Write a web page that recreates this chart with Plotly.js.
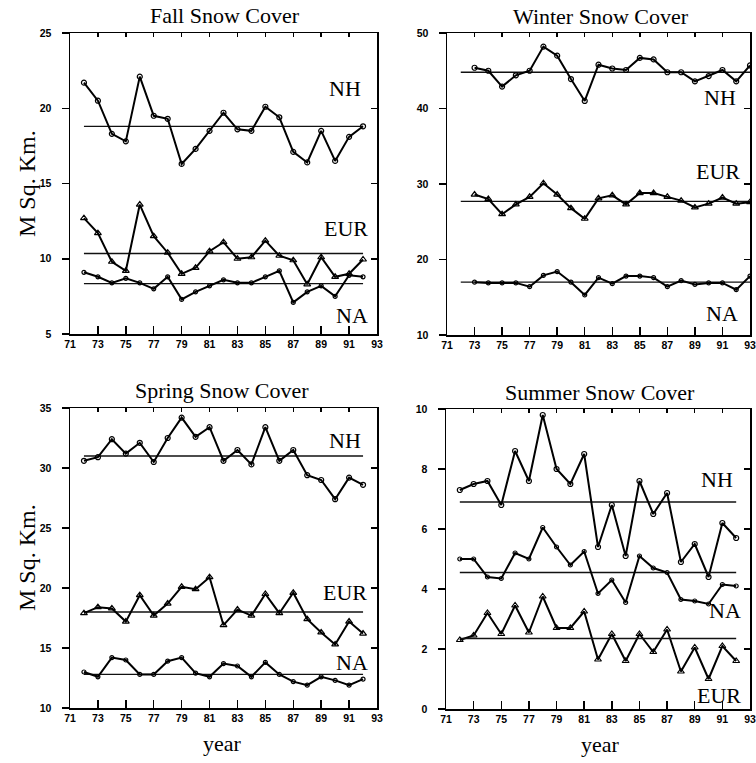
<!DOCTYPE html>
<html><head><meta charset="utf-8">
<script src="https://cdn.plot.ly/plotly-3.0.1.min.js"></script>
<style>html,body{margin:0;padding:0;background:#fff}</style>
</head><body><div id="chart" style="width:756px;height:763px"></div>
<script>
// ---- data (million sq. km) ----
const yearsFall   = [72,73,74,75,76,77,78,79,80,81,82,83,84,85,86,87,88,89,90,91,92];
const yearsWinter = [73,74,75,76,77,78,79,80,81,82,83,84,85,86,87,88,89,90,91,92,93];
const yearsSpring = [72,73,74,75,76,77,78,79,80,81,82,83,84,85,86,87,88,89,90,91,92];
const yearsSummer = [72,73,74,75,76,77,78,79,80,81,82,83,84,85,86,87,88,89,90,91,92];

const fallNH  = [21.7,20.5,18.3,17.8,22.1,19.5,19.3,16.3,17.3,18.5,19.7,18.6,18.5,20.1,19.4,17.1,16.4,18.5,16.5,18.1,18.8];
const fallEUR = [12.7,11.7,9.8,9.2,13.6,11.5,10.4,9.0,9.4,10.5,11.1,10.0,10.1,11.2,10.2,9.9,8.3,10.1,8.8,9.0,9.95];
const fallNA  = [9.1,8.8,8.4,8.7,8.4,8.0,8.8,7.3,7.8,8.2,8.6,8.4,8.4,8.8,9.2,7.1,7.8,8.2,7.5,8.9,8.8];
const fallMean = [18.8,10.35,8.35];

const winterNH  = [45.4,45.0,42.9,44.4,45.0,48.2,47.0,43.9,41.0,45.8,45.3,45.1,46.7,46.5,44.8,44.8,43.6,44.3,45.1,43.6,45.7];
const winterEUR = [28.6,28.0,26.0,27.3,28.3,30.1,28.6,26.8,25.4,28.1,28.5,27.3,28.8,28.8,28.3,27.8,26.9,27.4,28.2,27.4,27.6];
const winterNA  = [17.0,16.9,16.9,16.9,16.4,17.9,18.4,17.0,15.3,17.6,16.8,17.8,17.8,17.6,16.4,17.2,16.7,16.9,16.9,16.0,17.8];
const winterMean = [44.8,27.7,17.0];

const springNH  = [30.6,30.9,32.4,31.2,32.1,30.5,32.5,34.2,32.6,33.4,30.6,31.5,30.3,33.4,30.6,31.5,29.4,29.0,27.4,29.2,28.6];
const springEUR = [17.9,18.4,18.3,17.2,19.4,17.7,18.7,20.1,19.9,20.9,16.9,18.2,17.7,19.5,17.9,19.6,17.4,16.3,15.3,17.2,16.2];
const springNA  = [13.0,12.6,14.2,14.0,12.8,12.8,13.9,14.2,12.9,12.6,13.7,13.5,12.6,13.8,12.8,12.2,11.9,12.6,12.3,11.9,12.4];
const springMean = [31.0,18.0,12.8];

const summerNH  = [7.3,7.5,7.6,6.8,8.6,7.6,9.8,8.0,7.5,8.5,5.4,6.8,5.1,7.6,6.5,7.2,4.9,5.5,4.4,6.2,5.7];
const summerNA  = [5.0,5.0,4.4,4.35,5.2,5.0,6.05,5.4,4.8,5.25,3.85,4.3,3.55,5.1,4.7,4.55,3.65,3.6,3.5,4.15,4.1];
const summerEUR = [2.3,2.45,3.2,2.5,3.45,2.55,3.75,2.7,2.7,3.25,1.65,2.5,1.6,2.5,1.9,2.65,1.25,2.05,1.0,2.1,1.6];
const summerMean = [6.9,4.55,2.35];

const regionNames = ['NH','EUR','NA'];
const xTickVals = [71,73,75,77,79,81,83,85,87,89,91,93];
const xTickText = ['71','73','75','77','79','81','83','85','87','89','91','93'];
const fallTicks   = [5,10,15,20,25];
const winterTicks = [10,20,30,40,50];
const springTicks = [10,15,20,25,30,35];
const summerTicks = [0,2,4,6,8,10];

const titles = ['Fall Snow Cover','Winter Snow Cover','Spring Snow Cover','Summer Snow Cover'];
const yTitle = 'M Sq. Km.';
const xTitle = 'year';

// ---- panels ----
const panels = [
  {years: yearsFall,   series:[fallNH,fallEUR,fallNA],       means: fallMean,   ticks: fallTicks,   range:[5,25],
   meanX:[72,92], labels:[{t:'NH',x:92,y:21.3},{t:'EUR',x:92.5,y:12.0},{t:'NA',x:92.5,y:6.2}],
   dom:{x:[70,377], y:[33,334]}},
  {years: yearsWinter, series:[winterNH,winterEUR,winterNA], means: winterMean, ticks: winterTicks, range:[10,50],
   meanX:[72,93], labels:[{t:'NH',x:92.1,y:41.4},{t:'EUR',x:92.4,y:31.7},{t:'NA',x:92.3,y:12.9}],
   dom:{x:[447,750], y:[33,335]}},
  {years: yearsSpring, series:[springNH,springEUR,springNA], means: springMean, ticks: springTicks, range:[10,35],
   meanX:[72,92], labels:[{t:'NH',x:92,y:32.3},{t:'EUR',x:92.4,y:19.6},{t:'NA',x:92.5,y:13.8}],
   dom:{x:[70,377], y:[408,708]}},
  {years: yearsSummer, series:[summerNH,summerEUR,summerNA], means: summerMean, ticks: summerTicks, range:[0,10],
   meanX:[72,92], labels:[{t:'NH',x:91.9,y:7.65},{t:'NA',x:92.5,y:3.3},{t:'EUR',x:92.5,y:0.45}],
   dom:{x:[446,750], y:[409,709]}}
];

const W = 756, H = 763;
const markerSym = ['circle-open','triangle-up-open','circle-open'];
const markerSize = [5,6,4];
const data = [];
const layout = {
  width: W, height: H, margin:{l:0,r:0,t:0,b:0},
  paper_bgcolor:'#fff', plot_bgcolor:'#fff', showlegend:false,
  font:{family:'Liberation Serif, Times New Roman, serif', color:'#000'},
  annotations: []
};
const tickFont = {family:'Liberation Sans Narrow, Liberation Sans, Arial, sans-serif', size:10.5, color:'#000', weight:'bold'};

panels.forEach((p, i) => {
  const n = i + 1, s = n === 1 ? '' : String(n);
  const xa = 'x' + s, ya = 'y' + s;
  const xo = 'x' + (n + 4), yo = 'y' + (n + 4);
  const xd = [p.dom.x[0] / W, p.dom.x[1] / W];
  const yd = [(H - p.dom.y[1]) / H, (H - p.dom.y[0]) / H];
  layout['xaxis' + s] = {domain: xd, anchor: ya, range:[71,93], tickmode:'array', tickvals:xTickVals, ticktext:xTickText,
    ticks:'inside', ticklen:8, tickwidth:1.5, tickcolor:'#000', showline:true, linecolor:'#000', linewidth:1.5, mirror:true,
    showgrid:false, zeroline:false, tickfont:tickFont, fixedrange:true};
  layout['yaxis' + s] = {domain: yd, anchor: xa, range:p.range, tickmode:'array', tickvals:p.ticks,
    ticks:'outside', ticklen:7, tickwidth:1.5, tickcolor:'#000', showline:true, linecolor:'#000', linewidth:1.5, mirror:true,
    showgrid:false, zeroline:false, tickfont:tickFont, ticklabelstandoff:8, fixedrange:true};
  // overlay axes for top / right tick marks
  layout['xaxis' + (n + 4)] = {overlaying: xa, side:'top', anchor: ya, range:[71,93], tickmode:'array', tickvals:xTickVals,
    ticks:'inside', ticklen:4, tickwidth:1.5, tickcolor:'#000', showticklabels:false, showline:false, showgrid:false, zeroline:false};
  layout['yaxis' + (n + 4)] = {overlaying: ya, side:'right', anchor: xa, range:p.range, tickmode:'array', tickvals:p.ticks,
    ticks:'inside', ticklen:6, tickwidth:1.5, tickcolor:'#000', showticklabels:false, showline:false, showgrid:false, zeroline:false};
  data.push({x:[], y:[], xaxis: xo, yaxis: ya, type:'scatter', hoverinfo:'skip'});
  data.push({x:[], y:[], xaxis: xa, yaxis: yo, type:'scatter', hoverinfo:'skip'});

  p.series.forEach((vals, k) => {
    // mean line
    data.push({x: p.meanX, y:[p.means[k], p.means[k]], xaxis: xa, yaxis: ya, type:'scatter', mode:'lines',
      line:{color:'#111', width:1.3}, hoverinfo:'skip'});
    data.push({x: p.years, y: vals, xaxis: xa, yaxis: ya, type:'scatter', mode:'lines+markers', name: regionNames[k],
      line:{color:'#000', width:2}, marker:{symbol: markerSym[k], size: markerSize[k], color:'#000', line:{width:1.2, color:'#000'}}});
  });
  p.labels.forEach(l => {
    layout.annotations.push({xref: xa, yref: ya, x: l.x, y: l.y, text: l.t, showarrow:false, xanchor:'right', yanchor:'middle',
      font:{size:22, family:'Liberation Serif, serif', color:'#000'}});
  });
});

// subplot titles
const titlePos = [[225,15],[601,16],[222,390],[600,392]];
titles.forEach((t, i) => {
  layout.annotations.push({xref:'paper', yref:'paper', x: titlePos[i][0] / W, y: (H - titlePos[i][1]) / H, text: t,
    showarrow:false, xanchor:'center', yanchor:'middle', font:{size:22, family:'Liberation Serif, serif', color:'#000'}});
});
// axis titles
[[27,184],[27,558]].forEach(pos => {
  layout.annotations.push({xref:'paper', yref:'paper', x: pos[0] / W, y: (H - pos[1]) / H, text: yTitle, textangle:-90,
    showarrow:false, xanchor:'center', yanchor:'middle', font:{size:24, family:'Liberation Serif, serif', color:'#000'}});
});
[[222,743],[600,744]].forEach(pos => {
  layout.annotations.push({xref:'paper', yref:'paper', x: pos[0] / W, y: (H - pos[1]) / H, text: xTitle,
    showarrow:false, xanchor:'center', yanchor:'middle', font:{size:22, family:'Liberation Serif, serif', color:'#000'}});
});

Plotly.newPlot('chart', data, layout, {staticPlot:true, displayModeBar:false});
</script>
</body></html>
